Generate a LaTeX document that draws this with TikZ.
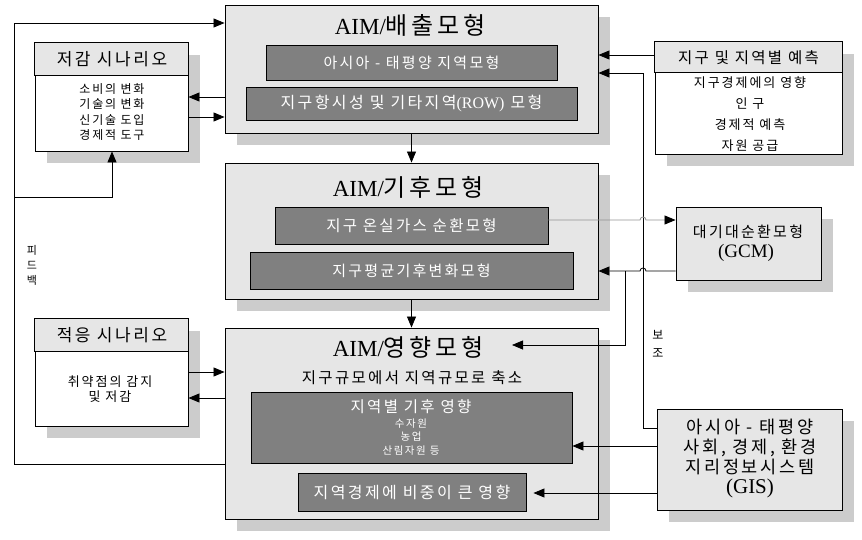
\documentclass[tikz,border=0pt]{standalone}
\usepackage{fontspec}
\setmainfont{Noto Sans CJK KR}[LetterSpace=15]
\newfontfamily\lat{Liberation Serif}
\usetikzlibrary{arrows.meta,calc,shadows}
\definecolor{boxgray}{HTML}{E6E6E6}
\definecolor{darkbox}{HTML}{808080}
\definecolor{shadowgray}{HTML}{CCCCCC}
\definecolor{lineg}{HTML}{929292}
\newcommand\fsz[2]{\fontsize{#1}{#2}\selectfont}
\tikzset{
 sbox/.style={draw=black, line width=0.9pt, inner sep=0pt, rectangle,
   drop shadow={shadow xshift=12pt, shadow yshift=-12pt, fill=shadowgray, opacity=1}},
 outer/.style={sbox, fill=boxgray},
 inner/.style={draw=black, line width=0.9pt, fill=darkbox, inner sep=0pt, text=white, rectangle},
 lbl/.style={inner sep=0pt, align=center},
 conn/.style={line width=0.8pt, draw=black},
 arr/.style={conn, -{Triangle[length=11pt,width=9pt]}},
 gconn/.style={line width=0.8pt, draw=lineg, -{Triangle[length=11pt,width=9pt,color=black]}},
}
\begin{document}
\begin{tikzpicture}[x=1pt,y=-1pt]
\useasboundingbox (0,0) rectangle (862,540);
% main boxes
\node[outer, minimum width=373pt, minimum height=128pt] (emis) at (411.5,69) {};
\node[outer, minimum width=373pt, minimum height=136pt] (clim) at (411.5,231) {};
\node[outer, minimum width=373pt, minimum height=191pt] (imp) at (411.5,423.5) {};
\node[sbox, fill=white, minimum width=153pt, minimum height=108pt] (mit) at (111.5,97) {};
\node[sbox, fill=white, minimum width=153pt, minimum height=107pt] (adp) at (111.5,372.5) {};
\node[sbox, fill=white, minimum width=187pt, minimum height=112pt] (fcst) at (748.5,98) {};
\node[outer, minimum width=145pt, minimum height=73pt] (gcm) at (748.5,243.5) {};
\node[outer, minimum width=185pt, minimum height=101pt] (gis) at (749.5,459.5) {};
% headers
\draw[line width=0.9pt, fill=boxgray] (mit.north west) rectangle ($(mit.north east)+(0,33)$);
\draw[line width=0.9pt, fill=boxgray] (adp.north west) rectangle ($(adp.north east)+(0,33)$);
\draw[line width=0.9pt, fill=boxgray] (fcst.north west) rectangle ($(fcst.north east)+(0,31)$);
% titles
\node[lbl] (emisT) at (410,25) {\fsz{24}{28}{\lat\fsz{23}{28}AIM/}배출모형};
\node[lbl] (climT) at (408,187) {\fsz{24}{28}{\lat\fsz{23}{28}AIM/}기후모형};
\node[lbl] (impT) at (408,347) {\fsz{24}{28}{\lat\fsz{23}{28}AIM/}영향모형};
\node[lbl] (impS) at (412,378) {\fsz{15.5}{18}지구규모에서 지역규모로 축소};
% inner boxes
\node[inner, minimum width=291pt, minimum height=35pt] (emisA) at (411.5,62.5) {\fsz{15}{18}아시아 - 태평양 지역모형};
\node[inner, minimum width=331pt, minimum height=33pt] (emisB) at (411.5,103.5) {\fsz{16}{19}지구항시성 및 기타지역{\lat(ROW)} 모형};
\node[inner, minimum width=273pt, minimum height=37pt] (climA) at (411.5,225.5) {\fsz{15.5}{18}지구 온실가스 순환모형};
\node[inner, minimum width=323pt, minimum height=37pt] (climB) at (411.5,270.5) {\fsz{15}{18}지구평균기후변화모형};
\node[inner, minimum width=321pt, minimum height=71pt] (impA) at (411.5,427.5) {};
\node[lbl, text=white] (impA1) at (411,407) {\fsz{15.5}{18}지역별 기후 영향};
\node[lbl, text=white, font=\fsz{10.5}{13.5}] (impA2) at (411,437) {수자원\\농업\\산림자원 등};
\node[inner, minimum width=228pt, minimum height=38pt] (impB) at (412,492) {\fsz{16}{19}지역경제에 비중이 큰 영향};
% side boxes text
\node[lbl] (mitH) at (112,59.5) {\fsz{17}{20}저감 시나리오};
\node[lbl, font=\fsz{12}{15.3}] (mitB) at (112,112) {소비의 변화\\기술의 변화\\신기술 도입\\경제적 도구};
\node[lbl] (adpH) at (112,335.5) {\fsz{17}{20}적응 시나리오};
\node[lbl, font=\fsz{13}{15}] (adpB) at (110,389.5) {취약점의 감지\\및 저감};
\node[lbl] (fcstH) at (748.5,57.5) {\fsz{15.5}{18}지구 및 지역별 예측};
\node[lbl, font=\fsz{13}{21}] (fcstB) at (750,114.5) {지구경제에의 영향\\인 구\\경제적 예측\\자원 공급};
\node[lbl] (gcm1) at (748,232) {\fsz{15}{18}대기대순환모형};
\node[lbl] (gcm2) at (746,253) {\fsz{19}{22}\lat (GCM)};
\node[lbl, font=\fsz{17.5}{20}] (gisT) at (750,458) {아시아 - 태평양\\사회, 경제, 환경\\지리정보시스템\\{\lat\fsz{21}{20}(GIS)}};
\node[lbl, font=\fsz{11}{15}] (fb) at (32,265) {피\\드\\백};
\node[lbl, font=\fsz{12}{18}] (bojo) at (658,344) {보\\조};
% coordinates
\coordinate (fbBot) at (14,464);
\coordinate (fbTop) at (14,23);
\coordinate (fbMid) at (14,197);
\coordinate (mitIn) at (112,197);
\coordinate (y97) at (0,97);
\coordinate (y117) at (0,117);
\coordinate (y55) at (0,55);
\coordinate (gisTurn) at (643,428);
\coordinate (gisUp) at (643,73);
\coordinate (y220) at (0,220);
\coordinate (y271) at (0,271);
\coordinate (br) at (625,271);
\coordinate (brTurn) at (625,345);
\coordinate (impTip) at (512,345);
\coordinate (y372) at (0,372);
\coordinate (y398) at (0,398);
\coordinate (y446) at (0,446);
\coordinate (y493) at (0,493);
% connectors
\draw[conn] (imp.west |- fbBot) -- (fbBot) -- (fbTop);
\draw[arr] (fbTop) -- (emis.west |- fbTop);
\draw[arr] (fbMid) -- (mitIn) -- (mit.south -| mitIn);
\draw[arr] (emis.west |- y97) -- (mit.east |- y97);
\draw[arr] (mit.east |- y117) -- (emis.west |- y117);
\draw[arr] (fcst.west |- y55) -- (emis.east |- y55);
\draw[arr] (gis.west |- gisTurn) -- (gisTurn) -- (gisUp) -- (emis.east |- gisUp);
\draw[arr] (emis.south) -- (clim.north);
\draw[arr] (clim.south) -- (imp.north);
\draw[gconn] (climA.east |- y220) -- ($(gisTurn |- y220)+(-3,0)$) arc (180:360:3) -- (gcm.west |- y220);
\draw[arr] (gcm.west |- y271) -- ($(gisTurn |- y271)+(3,0)$) arc (0:-180:3) -- (clim.east |- y271);
\draw[arr] (br) -- (brTurn) -- (impTip);
\draw[arr] (adp.east |- y372) -- (imp.west |- y372);
\draw[arr] (imp.west |- y398) -- (adp.east |- y398);
\draw[arr] (gis.west |- y446) -- (impA.east |- y446);
\draw[arr] (gis.west |- y493) -- ($(impB.east |- y493)+(7,0)$);
\end{tikzpicture}
\end{document}
